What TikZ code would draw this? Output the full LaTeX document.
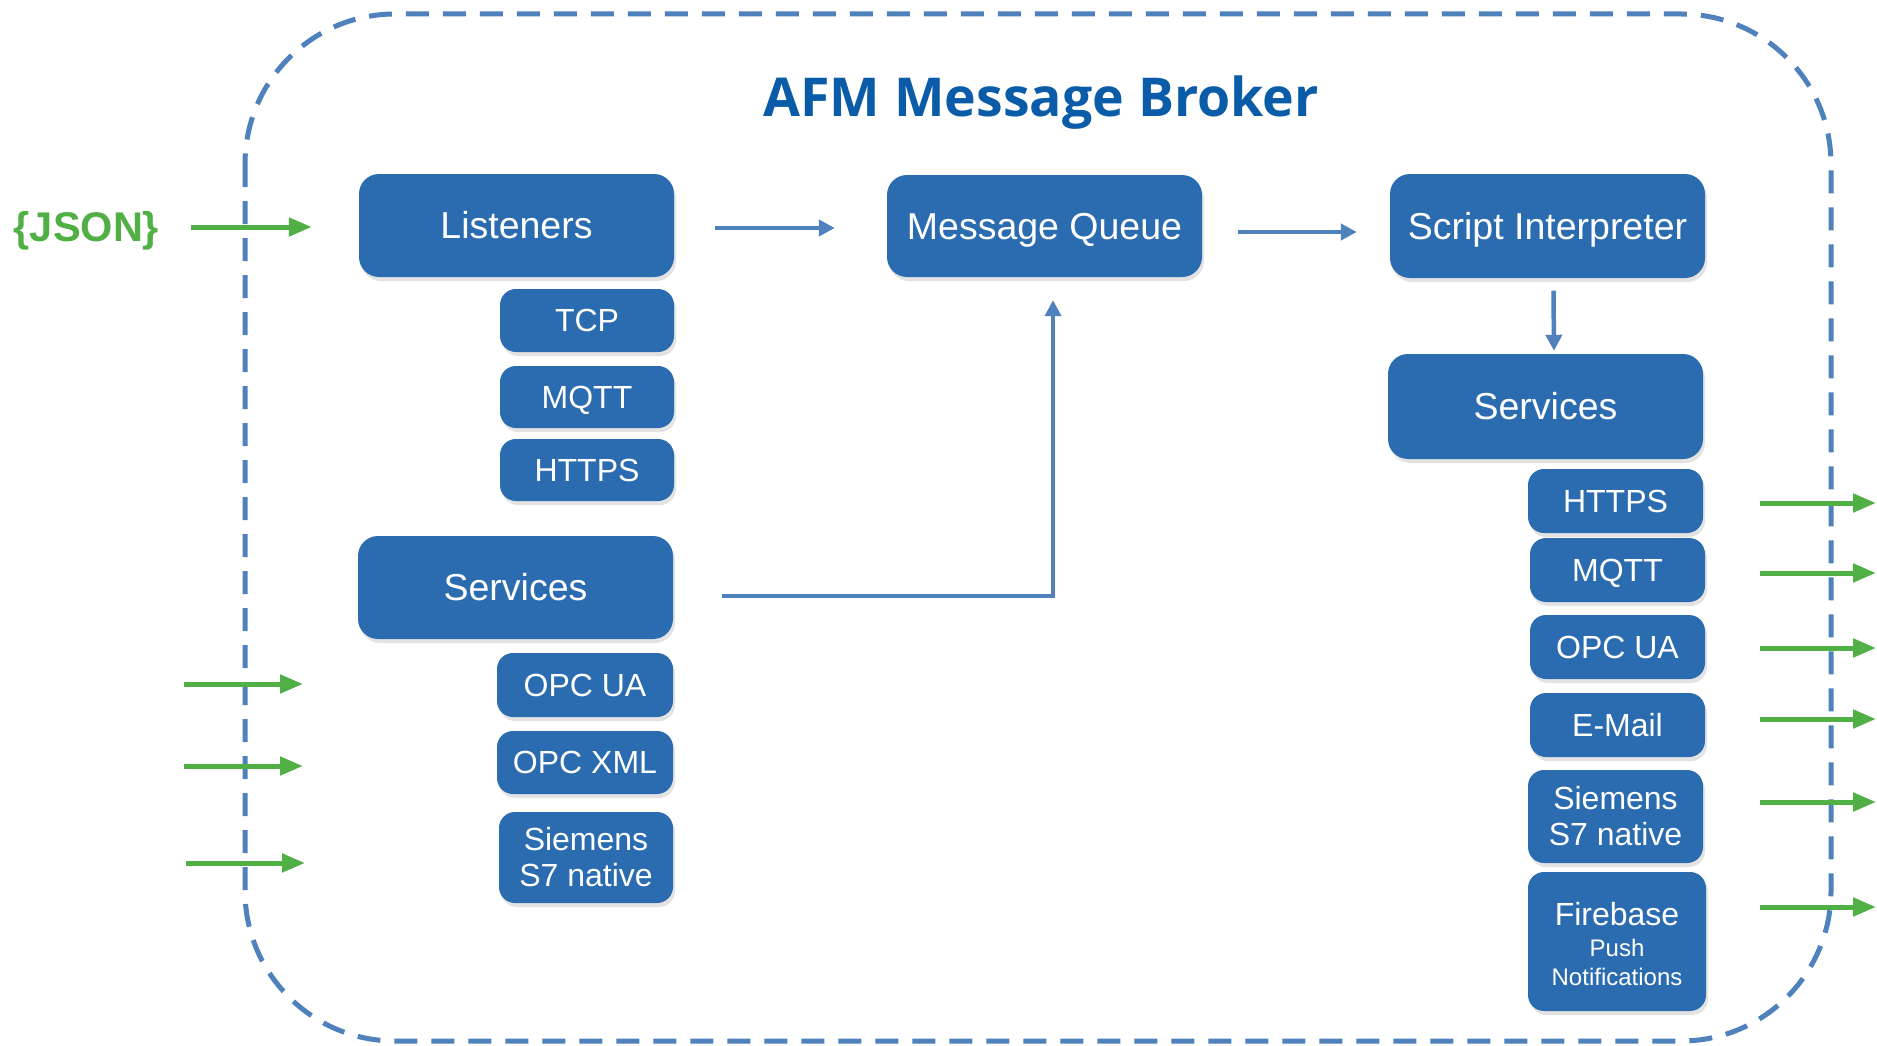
\documentclass[tikz,border=0pt]{standalone}
\usepackage{fontspec}
\setmainfont{Liberation Sans}
\newfontfamily\titlefont{Open Sans}
\usetikzlibrary{arrows.meta,shadows}
\definecolor{boxblue}{RGB}{43,108,176}
\definecolor{lineblue}{RGB}{79,129,189}
\definecolor{titleblue}{RGB}{10,92,168}
\definecolor{arrgreen}{RGB}{80,176,70}
\begin{document}
\begin{tikzpicture}[x=1pt,y=-1pt,
 boxbase/.style={rectangle, fill=boxblue, text=white, inner sep=0pt, rounded corners=16pt,
   drop shadow={shadow xshift=2pt, shadow yshift=-4pt, opacity=0.22}},
 bigbox/.style={boxbase, rounded corners=20pt, minimum width=315pt, font=\fontsize{37.5}{42}\selectfont, text height=26.8pt, text depth=0pt},
 smallbox/.style={boxbase, font=\fontsize{32}{36}\selectfont, text height=22.9pt, text depth=0pt},
 multibox/.style={boxbase, align=center, font=\fontsize{32}{36}\selectfont},
 garrow/.style={draw=arrgreen, line width=5pt, -{Triangle[length=23pt,width=18pt]}},
 barrow/.style={draw=lineblue, line width=4.5pt, -{Triangle[length=16pt,width=16pt]}},
 border/.style={draw=lineblue, line width=5pt, dash pattern=on 23pt off 14pt, rounded corners=150pt}]

\fill[white] (0,0) rectangle (1877,1046);
\useasboundingbox (0,0) rectangle (1877,1046);

% outer dashed frame
\draw[border] (245,14) rectangle (1831,1041);

% title
\node[anchor=base, text=titleblue, font=\titlefont\bfseries\fontsize{53.6}{60}\selectfont] (title) at (1041,117) {AFM Message Broker};

% JSON label
\node[text=arrgreen, font=\bfseries\fontsize{41.5}{46}\selectfont, inner sep=0pt] (json) at (86.5,231) {\{JSON\}};

% left column
\node[bigbox, minimum height=103pt] (lis) at (516.5,225.5) {Listeners};
\node[smallbox, minimum width=174pt, minimum height=63pt] (tcp) at (587,320.5) {TCP};
\node[smallbox, minimum width=174pt, minimum height=62pt] (mqttL) at (587,397) {MQTT};
\node[smallbox, minimum width=174pt, minimum height=62pt] (httpsL) at (587,470) {HTTPS};
\node[bigbox, minimum height=103pt] (svcL) at (515.5,587.5) {Services};
\node[smallbox, minimum width=176pt, minimum height=64pt] (opcuaL) at (585,685) {OPC UA};
\node[smallbox, minimum width=176pt, minimum height=63pt] (opcxml) at (585,762.5) {OPC XML};
\node[multibox, minimum width=174pt, minimum height=91pt] (s7L) at (586,857.5) {Siemens\\S7 native};

% middle
\node[bigbox, minimum height=102pt] (mq) at (1044.5,226) {Message Queue};

% right column
\node[bigbox, minimum height=104pt] (si) at (1547.5,226) {Script Interpreter};
\node[bigbox, minimum height=105pt] (svcR) at (1545.5,406.5) {Services};
\node[smallbox, minimum width=175pt, minimum height=64pt] (httpsR) at (1615.5,501) {HTTPS};
\node[smallbox, minimum width=175pt, minimum height=64pt] (mqttR) at (1617.5,570) {MQTT};
\node[smallbox, minimum width=175pt, minimum height=64pt] (opcuaR) at (1617.5,647) {OPC UA};
\node[smallbox, minimum width=175pt, minimum height=64pt] (email) at (1617.5,725) {E-Mail};
\node[multibox, minimum width=175pt, minimum height=93pt] (s7R) at (1615.5,816.5) {Siemens\\S7 native};
\node[multibox, minimum width=178pt, minimum height=139pt, font=\fontsize{24}{29}\selectfont] (fb) at (1617,941.5)
  {{\fontsize{32}{36}\selectfont\rule{0pt}{28pt}Firebase}\\[2pt]Push\\Notifications};

% blue connectors
\draw[barrow] ([xshift=41pt,yshift=-2.5pt]lis.east) -- ([xshift=-52pt,yshift=-2pt]mq.west);
\draw[barrow] ([xshift=36pt,yshift=-6pt]mq.east) -- ([xshift=-33pt,yshift=-6pt]si.west);
\draw[barrow] ([xshift=6pt,yshift=-12.5pt]si.south) -- ([xshift=8.5pt,yshift=3pt]svcR.north);
\draw[barrow] ([xshift=49pt,yshift=-8.5pt]svcL.east) -| ([xshift=8.5pt,yshift=-23pt]mq.south);

% green input arrows
\draw[garrow] ([xshift=32pt,yshift=4pt]json.east) -- ([xshift=-47pt,yshift=-1.5pt]lis.west);
\coordinate (inA1) at (184,684);  \coordinate (inA2) at (303,684);
\coordinate (inB1) at (184,766);  \coordinate (inB2) at (303,766);
\coordinate (inC1) at (186,863);  \coordinate (inC2) at (305,863);
\draw[garrow] (inA1) -- (inA2);
\draw[garrow] (inB1) -- (inB2);
\draw[garrow] (inC1) -- (inC2);

% green output arrows
\foreach \yy/\nm in {503/a,573/b,648/c,719/d,802/e,907/f}{
  \coordinate (out\nm1) at (1760,\yy);
  \coordinate (out\nm2) at (1876,\yy);
  \draw[garrow] (out\nm1) -- (out\nm2);
}
\end{tikzpicture}
\end{document}
